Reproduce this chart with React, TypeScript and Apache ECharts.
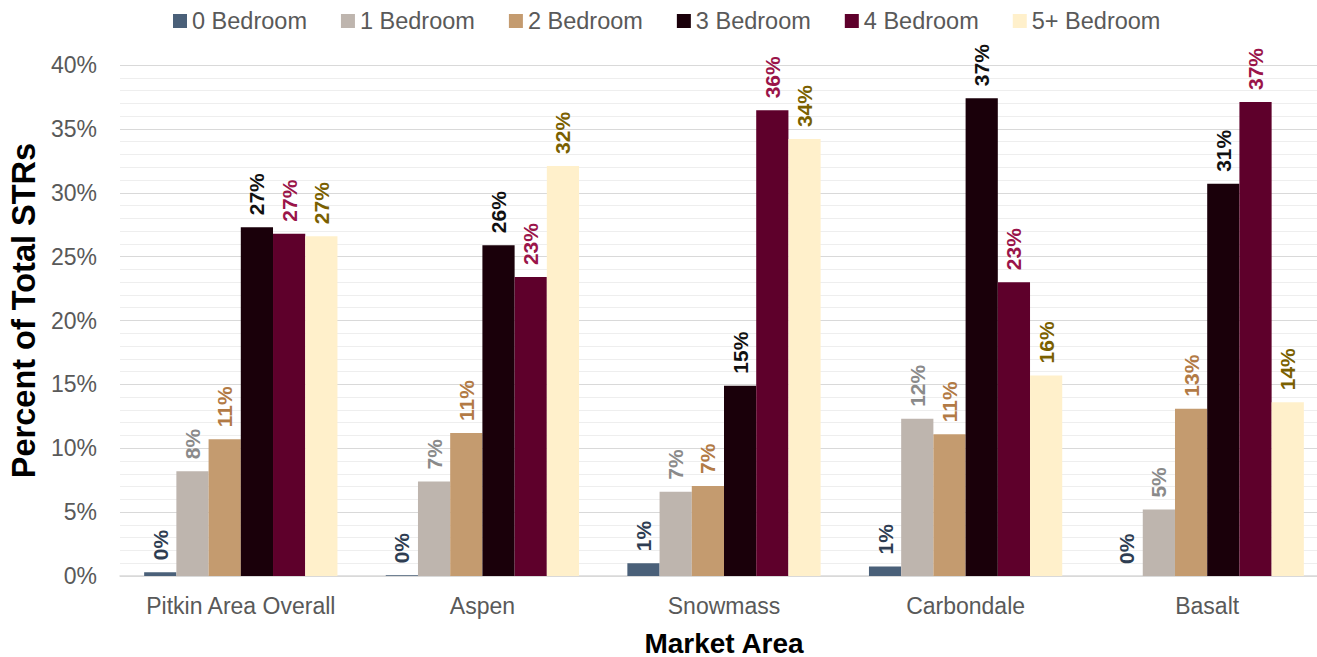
import React, { useEffect, useRef } from "react";
import * as echarts from "echarts";

const categories = ["Pitkin Area Overall", "Aspen", "Snowmass", "Carbondale", "Basalt"];
const seriesNames = ["0 Bedroom", "1 Bedroom", "2 Bedroom", "3 Bedroom", "4 Bedroom", "5+ Bedroom"];
const bed0 = [0.3, 0.05, 1.0, 0.75, 0.0];
const bed1 = [8.2, 7.4, 6.6, 12.3, 5.2];
const bed2 = [10.7, 11.2, 7.05, 11.1, 13.1];
const bed3 = [27.3, 25.9, 14.9, 37.4, 30.7];
const bed4 = [26.8, 23.4, 36.45, 23.0, 37.1];
const bed5 = [26.6, 32.1, 34.2, 15.7, 13.6];
const yTicks = [0, 5, 10, 15, 20, 25, 30, 35, 40];

const barColors = ["#4a6079", "#beb5ae", "#c49b6f", "#1a000a", "#5e002b", "#fff0cb"];
const labelColors = ["#2e3d52", "#8a8a8a", "#b27a45", "#111111", "#9a1449", "#7a6000"];

export default function App() {
  const ref = useRef<HTMLDivElement>(null);
  useEffect(() => {
    const chart = echarts.init(ref.current!, null, { renderer: "svg" });
    const data = [bed0, bed1, bed2, bed3, bed4, bed5];
    chart.setOption({
      animation: false,
      textStyle: { fontFamily: "Liberation Sans, Arial, sans-serif" },
      legend: {
        top: 4,
        left: 168,
        icon: "rect",
        itemWidth: 14,
        itemHeight: 14,
        itemGap: 34,
        textStyle: { fontSize: 23.5, color: "#595959" },
        data: seriesNames,
      },
      grid: {
        left: 120,
        right: -11,
        top: 65,
        bottom: 81,
        containLabel: false,
        outerBoundsMode: "none",
      },
      xAxis: {
        type: "category",
        data: categories,
        name: "Market Area",
        nameLocation: "middle",
        nameGap: 53,
        nameTextStyle: { fontSize: 28, fontWeight: "bold", color: "#000" },
        axisLine: { lineStyle: { color: "#d9d9d9", width: 1.5 } },
        axisTick: { show: false },
        axisLabel: { fontSize: 23, color: "#595959", margin: 18, interval: 0 },
      },
      yAxis: {
        type: "value",
        min: yTicks[0],
        max: yTicks[yTicks.length - 1],
        interval: 5,
        name: "Percent of Total STRs",
        nameLocation: "middle",
        nameGap: 78,
        nameTextStyle: { fontSize: 32.5, fontWeight: "bold", color: "#000", padding: [0, 0, 0, 20] },
        axisLabel: { fontSize: 23, color: "#595959", formatter: "{value}%", margin: 23 },
        axisLine: { show: false },
        axisTick: { show: false },
        splitLine: { lineStyle: { color: "#d9d9d9", width: 1.2 } },
        minorTick: { show: false, splitNumber: 5 },
        minorSplitLine: { show: true, lineStyle: { color: "#eeeeee", width: 1.2 } },
      },
      series: seriesNames.map((name, i) => ({
        name,
        type: "bar",
        data: data[i],
        barGap: "0%",
        barCategoryGap: "20%",
        itemStyle: { color: barColors[i] },
        label: {
          show: true,
          position: "top",
          rotate: 90,
          align: "left",
          verticalAlign: "middle",
          distance: 12,
          fontSize: 21,
          fontWeight: "bold",
          color: labelColors[i],
          formatter: (p: any) => Math.round(p.value) + "%",
        },
      })),
    });
    return () => chart.dispose();
  }, []);
  return (
    <div
      ref={ref}
      style={{ position: "absolute", left: 0, top: 0, width: 1317, height: 657 }}
    />
  );
}
